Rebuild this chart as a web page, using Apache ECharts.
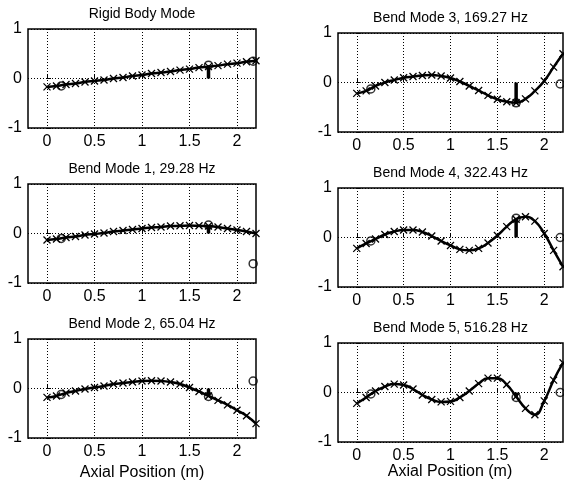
<!DOCTYPE html>
<html>
<head>
<meta charset="utf-8">
<script src="https://cdn.jsdelivr.net/npm/echarts@6/dist/echarts.min.js"></script>
<style>
  html, body { margin: 0; padding: 0; background: #fff; }
  #chart { width: 564px; height: 482px; }
</style>
</head>
<body>
<div id="chart"></div>
<script>
// axial node positions (m)
const xPos = [0, 0.1, 0.2, 0.3, 0.4, 0.5, 0.6, 0.7, 0.8, 0.9, 1.0, 1.1, 1.2, 1.3, 1.4, 1.5, 1.6, 1.7, 1.8, 1.9, 2.0, 2.1, 2.2];
const xTicks = [0, 0.5, 1, 1.5, 2];

const rigidBody = [-0.17, -0.15, -0.12, -0.10, -0.07, -0.05, -0.03, 0.0, 0.02, 0.05, 0.07, 0.10, 0.12, 0.14, 0.17, 0.19, 0.22, 0.24, 0.26, 0.29, 0.31, 0.34, 0.36];
const bendMode1 = [-0.13, -0.11, -0.08, -0.06, -0.03, -0.01, 0.01, 0.04, 0.06, 0.08, 0.10, 0.12, 0.13, 0.15, 0.155, 0.16, 0.155, 0.15, 0.13, 0.10, 0.07, 0.04, 0.0];
const bendMode2 = [-0.18, -0.15, -0.09, -0.05, -0.01, 0.02, 0.05, 0.09, 0.11, 0.13, 0.15, 0.155, 0.15, 0.13, 0.09, 0.02, -0.06, -0.15, -0.24, -0.33, -0.44, -0.55, -0.71];
const bendMode3 = [-0.22, -0.17, -0.07, 0.0, 0.05, 0.095, 0.12, 0.14, 0.15, 0.13, 0.09, 0.02, -0.07, -0.16, -0.26, -0.34, -0.39, -0.41, -0.33, -0.17, 0.03, 0.31, 0.58];
const bendMode4 = [-0.22, -0.12, -0.03, 0.06, 0.12, 0.15, 0.15, 0.11, 0.03, -0.07, -0.16, -0.24, -0.26, -0.22, -0.11, 0.04, 0.22, 0.37, 0.42, 0.33, 0.08, -0.26, -0.59];
const bendMode5 = [-0.22, -0.10, 0.03, 0.12, 0.17, 0.15, 0.07, -0.05, -0.14, -0.19, -0.18, -0.10, 0.03, 0.18, 0.29, 0.29, 0.16, -0.08, -0.32, -0.45, -0.17, 0.25, 0.60];

// sensor locations (circles) and the actuator stem at 1.7 m
const sensorX = [0.15, 1.7, 2.17];
const rigidSensors = [-0.15, 0.27, 0.35];
const mode1Sensors = [-0.10, 0.17, -0.61];
const mode2Sensors = [-0.12, -0.16, 0.15];
const mode3Sensors = [-0.13, -0.41, -0.03];
const mode4Sensors = [-0.07, 0.39, 0.0];
const mode5Sensors = [-0.03, -0.10, 0.0];
const actuatorX = 1.7;

const titles = ['Rigid Body Mode', 'Bend Mode 3, 169.27 Hz', 'Bend Mode 1, 29.28 Hz', 'Bend Mode 4, 322.43 Hz', 'Bend Mode 2, 65.04 Hz', 'Bend Mode 5, 516.28 Hz'];
const shapes = [rigidBody, bendMode3, bendMode1, bendMode4, bendMode2, bendMode5];
const sensors = [rigidSensors, mode3Sensors, mode1Sensors, mode4Sensors, mode2Sensors, mode5Sensors];

const font = 'Liberation Sans, Arial, sans-serif';
const gridPos = [
  { left: 28, top: 29 }, { left: 338, top: 33 },
  { left: 28, top: 184 }, { left: 338, top: 188 },
  { left: 28, top: 339 }, { left: 338, top: 343 }
];

const chart = echarts.init(document.getElementById('chart'));

let grids = [], xAxes = [], yAxes = [], series = [], graphics = [];
gridPos.forEach((p, i) => {
  const w = i % 2 === 0 ? 228 : 225;
  grids.push({
    left: p.left, top: p.top, width: w, height: 99,
    show: true, borderColor: '#000', borderWidth: 1.5, backgroundColor: '#fff'
  });
  xAxes.push({
    gridIndex: i, type: 'value', min: -0.2, max: 2.2,
    axisLine: { show: false },
    axisTick: { inside: true, length: 4, customValues: xTicks, lineStyle: { color: '#000' } },
    axisLabel: { customValues: xTicks, color: '#000', fontSize: 16, fontFamily: font, margin: 6 },
    splitLine: { show: true, lineStyle: { color: '#000', type: [1, 2], width: 1 } }
  });
  yAxes.push({
    gridIndex: i, type: 'value', min: -1, max: 1, interval: 1,
    axisLine: { show: false },
    axisTick: { show: true, inside: true, length: 4, lineStyle: { color: '#000' } },
    axisLabel: { color: '#000', fontSize: 16, fontFamily: font, margin: 6 },
    splitLine: { show: true, lineStyle: { color: '#000', type: [1, 2], width: 1 } }
  });
  series.push({
    type: 'line', xAxisIndex: i, yAxisIndex: i,
    data: xPos.map((x, k) => [x, shapes[i][k]]),
    smooth: true,
    symbol: 'path://M0,0L10,10M10,0L0,10',
    symbolSize: 7, showAllSymbol: true,
    lineStyle: { color: '#000', width: 2.5 },
    itemStyle: { color: '#000', borderColor: '#000', borderWidth: 1.3 },
    animation: false, z: 3
  });
  series.push({
    type: 'line', xAxisIndex: i, yAxisIndex: i,
    data: [[actuatorX, 0], [actuatorX, sensors[i][1]]],
    symbol: 'none',
    lineStyle: { color: '#000', width: 3.5 },
    animation: false, z: 4
  });
  series.push({
    type: 'scatter', xAxisIndex: i, yAxisIndex: i,
    data: sensorX.map((x, k) => [x, sensors[i][k]]),
    symbol: 'circle', symbolSize: 8,
    itemStyle: { color: 'rgba(255,255,255,0)', borderColor: '#000', borderWidth: 1.5 },
    animation: false, z: 5
  });
  graphics.push({
    type: 'text',
    x: p.left + w / 2, y: p.top - 15,
    style: { text: titles[i], fontSize: 14, fontFamily: font, fill: '#000', align: 'center', verticalAlign: 'middle' }
  });
});

graphics.push({
  type: 'text', x: 142, y: 473,
  style: { text: 'Axial Position (m)', fontSize: 16, fontFamily: font, fill: '#000', align: 'center', verticalAlign: 'middle' }
});
graphics.push({
  type: 'text', x: 450, y: 472,
  style: { text: 'Axial Position (m)', fontSize: 16, fontFamily: font, fill: '#000', align: 'center', verticalAlign: 'middle' }
});

chart.setOption({
  backgroundColor: '#fff',
  animation: false,
  grid: grids,
  xAxis: xAxes,
  yAxis: yAxes,
  series: series,
  graphic: graphics
});
</script>
</body>
</html>
